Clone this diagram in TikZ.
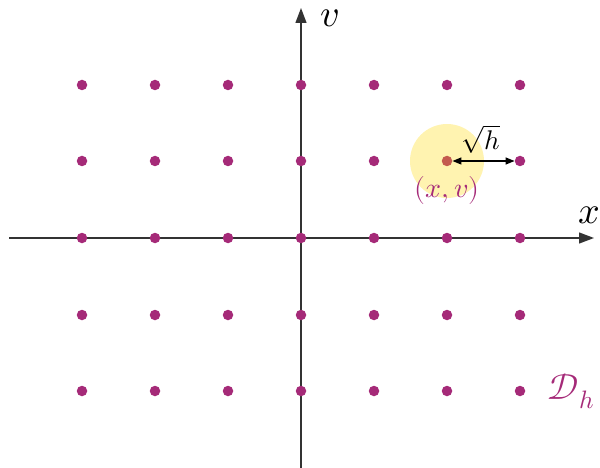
\documentclass[tikz,border=0pt]{standalone}
\usepackage{unicode-math}
\setmathfont{Latin Modern Math}
\usetikzlibrary{arrows.meta}
\definecolor{dotc}{HTML}{A52A78}
\definecolor{ctrc}{HTML}{C45A4E}
\definecolor{halo}{HTML}{FFF3B0}
\definecolor{axisc}{HTML}{333333}
\begin{document}
\begin{tikzpicture}[x=1pt,y=-1pt,
  gdot/.style={circle,fill=dotc,inner sep=0pt,minimum size=10.5pt},
  axisline/.style={draw=axisc,line width=1.3pt,-{Triangle[length=15pt,width=11pt]}},
  lbl/.style={inner sep=0pt,font=\fontsize{40}{44}\selectfont}]
\useasboundingbox (0,0) rectangle (600,468);
\fill[halo] (447,161) circle (37);
\coordinate (xs) at (9,238);
\coordinate (xe) at (594,238);
\coordinate (vs) at (301,468);
\coordinate (ve) at (301,8);
\draw[axisline] (xs) -- (xe);
\draw[axisline] (vs) -- (ve);
\foreach \i/\x in {0/82,1/155,2/228,3/301,4/374,5/447,6/520}{
  \foreach \j/\y in {0/85,1/161,2/238,3/315,4/391}{
    \ifnum\i=5 \ifnum\j=1 \else
      \node[gdot] (d\i\j) at (\x,\y) {};
    \fi\else
      \node[gdot] (d\i\j) at (\x,\y) {};
    \fi
  }
}
\node[gdot,fill=ctrc] (d51) at (447,161) {};
\draw[line width=1.3pt,{Triangle[length=9pt,width=7pt]}-{Triangle[length=9pt,width=7pt]}] (d51.east) -- (d61.west);
\node[inner sep=0pt,font=\fontsize{27}{30}\selectfont] (sq) at (481,139) {$\sqrt{h}$};
\node[inner sep=0pt,font=\fontsize{28}{32}\selectfont,text=dotc] (xv) at (447,190) {$(x,v)$};
\node[lbl,font=\fontsize{38}{42}\selectfont] (vl) at (330,18) {$v$};
\node[lbl,font=\fontsize{38}{42}\selectfont] (xl) at (589,215) {$x$};
\node[lbl,font=\fontsize{36}{40}\selectfont,text=dotc] (dh) at (571,391) {$\mathcal{D}_h$};
\end{tikzpicture}
\end{document}
